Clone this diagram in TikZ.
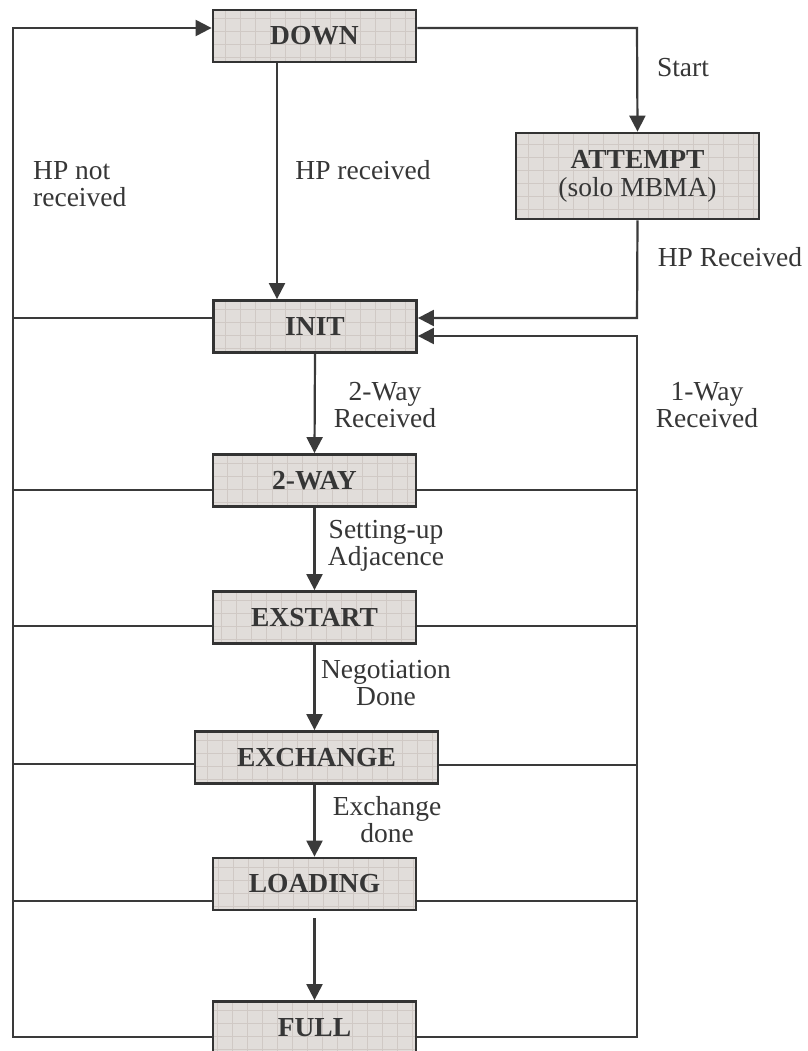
\documentclass[tikz,border=0pt]{standalone}
\usepackage{fontspec}
\setmainfont{Liberation Serif}
\usetikzlibrary{arrows.meta,calc}
\definecolor{txt}{HTML}{363636}
\definecolor{linec}{HTML}{3A3A3A}
\definecolor{boxedge}{HTML}{333333}
\definecolor{boxfill}{HTML}{E1DDDA}
\definecolor{gridc}{HTML}{D0C9C5}
\tikzset{
  stbox/.style={draw=boxedge, line width=2.8pt, fill=boxfill, inner sep=0pt,
    minimum width=203pt, minimum height=52pt, text=txt,
    font=\fontsize{27.5}{27}\selectfont\bfseries,
    path picture={\draw[gridc, line width=0.8pt, xstep=15pt, ystep=13pt]
      (path picture bounding box.south west) grid (path picture bounding box.north east);}},
  conn/.style={draw=linec, line width=2.2pt},
  arr/.style={conn, -{Triangle[length=16pt,width=16pt]}},
  lbl/.style={text=txt, align=center, inner sep=0pt, font=\fontsize{27.5}{27}\selectfont}
}
\begin{document}
\begin{tikzpicture}[x=1pt,y=-1pt]
\useasboundingbox (0,0) rectangle (807,1051);
\clip (0,0) rectangle (807,1051);
\fill[white] (0,0) rectangle (807,1051);
% states
\node[stbox] (down) at (314.5,36) {DOWN};
\node[stbox, minimum width=243pt, minimum height=86pt, align=center] (attempt) at (637.5,176)
  {ATTEMPT\\[1pt]{\mdseries (solo MBMA)}};
\node[stbox] (init) at (315,326.5) {INIT};
\node[stbox] (twoway) at (314.5,480.5) {2-WAY};
\node[stbox] (exstart) at (314.5,617.5) {EXSTART};
\node[stbox, minimum width=243pt] (exchange) at (316.5,757.5) {EXCHANGE};
\node[stbox] (loading) at (314.5,884) {LOADING};
\node[stbox] (full) at (314.5,1027.5) {FULL};
% corner coordinates
\coordinate (lb) at (13,1037);
\coordinate (lt) at (13,28);
\coordinate (rb) at (637,1037);
\coordinate (rt) at (637,336);
\coordinate (st) at (637,28);
\coordinate (ai) at (637,318);
% main downward chain
\draw[arr] (down.south -| 277,0) -- (init.north -| 277,0);
\draw[arr] (init.south) -- (twoway.north);
\draw[arr] (twoway.south) -- (exstart.north);
\draw[arr] (exstart.south) -- (exchange.north -| exstart.south);
\draw[arr] (exchange.south -| exstart.south) -- (loading.north);
\draw[arr] ([yshift=-7pt]loading.south) -- (full.north);
% start branch
\draw[arr] (down.east |- st) -- (st) -- (attempt.north);
\draw[arr] (attempt.south) -- (ai) -- (init.east |- ai);
% left loop (HP not received)
\draw[arr] (full.west |- lb) -- (lb) -- (lt) -- (down.west |- lt);
\draw[conn] (init.west |- 0,318) -- (lt |- 0,318);
\draw[conn] (twoway.west |- 0,490) -- (lt |- 0,490);
\draw[conn] (exstart.west |- 0,626) -- (lt |- 0,626);
\draw[conn] (exchange.west |- 0,764) -- (lt |- 0,764);
\draw[conn] (loading.west |- 0,901) -- (lt |- 0,901);
% right loop (1-Way received)
\draw[arr] (full.east |- rb) -- (rb) -- (rt) -- (init.east |- rt);
\draw[conn] (twoway.east |- 0,490) -- (rb |- 0,490);
\draw[conn] (exstart.east |- 0,626) -- (rb |- 0,626);
\draw[conn] (exchange.east |- 0,765) -- (rb |- 0,765);
\draw[conn] (loading.east |- 0,901) -- (rb |- 0,901);
% labels
\node[lbl] (lstart) at (683,68) {Start};
\node[lbl, anchor=west, align=left] (lhpnot) at (33,184) {HP not\\received};
\node[lbl] (lhprec) at (363,170) {HP received};
\node[lbl] (lhpRec) at (730,257) {HP Received};
\node[lbl] (ltwo) at (385,405) {2-Way\\Received};
\node[lbl] (lone) at (707,405) {1-Way\\Received};
\node[lbl] (lset) at (386,546) {Setting-up\\Adjacence};
\node[lbl] (lneg) at (386,683) {Negotiation\\Done};
\node[lbl] (lexd) at (387,820) {Exchange\\done};
\end{tikzpicture}
\end{document}
